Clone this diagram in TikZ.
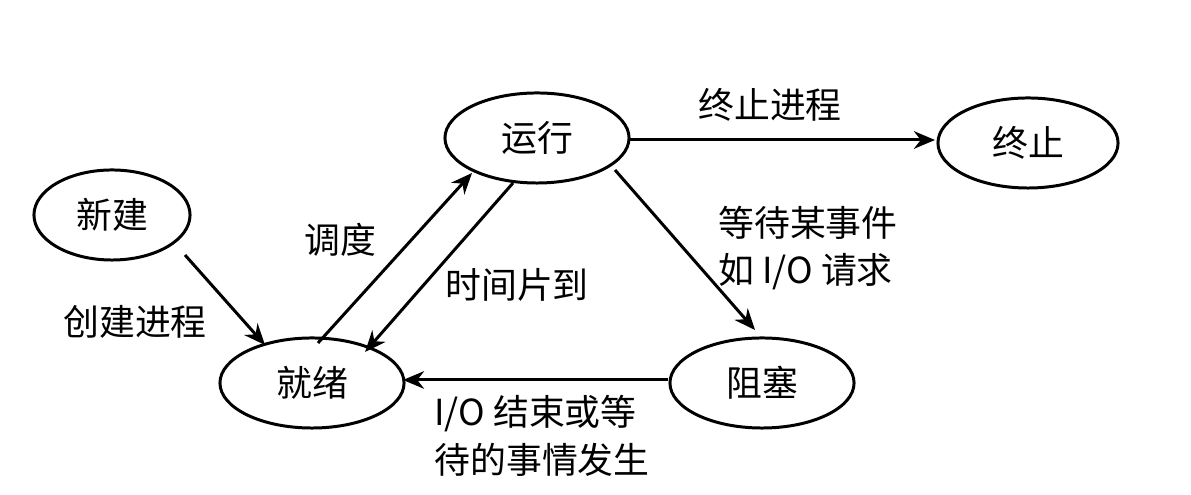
\documentclass[tikz,border=0pt]{standalone}
\usepackage{fontspec}
\newfontfamily\cjk{Noto Sans CJK SC}
\usetikzlibrary{shapes.geometric,arrows.meta}
\begin{document}
\begin{tikzpicture}[x=0.01cm,y=-0.01cm,
  st/.style={draw,ellipse,line width=0.85pt,minimum width=#1,minimum height=0.9cm,inner sep=0pt},
  st/.default=1.84cm,
  lb/.style={font=\cjk\fontsize{10.2}{12.5}\selectfont,align=center},
  ar/.style={line width=0.85pt,-{Stealth[length=6pt,width=5pt]}}]
\useasboundingbox (0,0) rectangle (1191,495);
\node[st=1.56cm,lb] (new) at (112,215) {新建};
\node[st,lb] (run) at (537,138) {运行};
\node[st=1.8cm,lb] (end) at (1028,143) {终止};
\node[st,lb] (ready) at (312,383) {就绪};
\node[st,lb] (block) at (762,383) {阻塞};
\coordinate (a1) at (185,255); \coordinate (a2) at (265,345);
\coordinate (b1) at (318,343); \coordinate (b2) at (472,173);
\coordinate (c1) at (513,183); \coordinate (c2) at (365,352);
\coordinate (d1) at (630,140); \coordinate (d2) at (935,140);
\coordinate (e1) at (615,170); \coordinate (e2) at (755,330);
\coordinate (f1) at (668,380); \coordinate (f2) at (403,380);
\draw[ar] (a1) -- (a2);
\draw[ar] (b1) -- (b2);
\draw[ar] (c1) -- (c2);
\draw[ar] (d1) -- (d2);
\draw[ar] (e1) -- (e2);
\draw[ar] (f1) -- (f2);
\node[lb] (l1) at (770,105) {终止进程};
\node[lb] (l2) at (340,240) {调度};
\node[lb] (l3) at (517,285) {时间片到};
\node[lb,align=left] (l4) at (808,248) {等待某事件\\[1pt]如 I/O 请求};
\node[lb] (l5) at (135,322) {创建进程};
\node[lb,align=left] (l6) at (542,436) {I/O 结束或等\\[1pt]待的事情发生};
\end{tikzpicture}
\end{document}
